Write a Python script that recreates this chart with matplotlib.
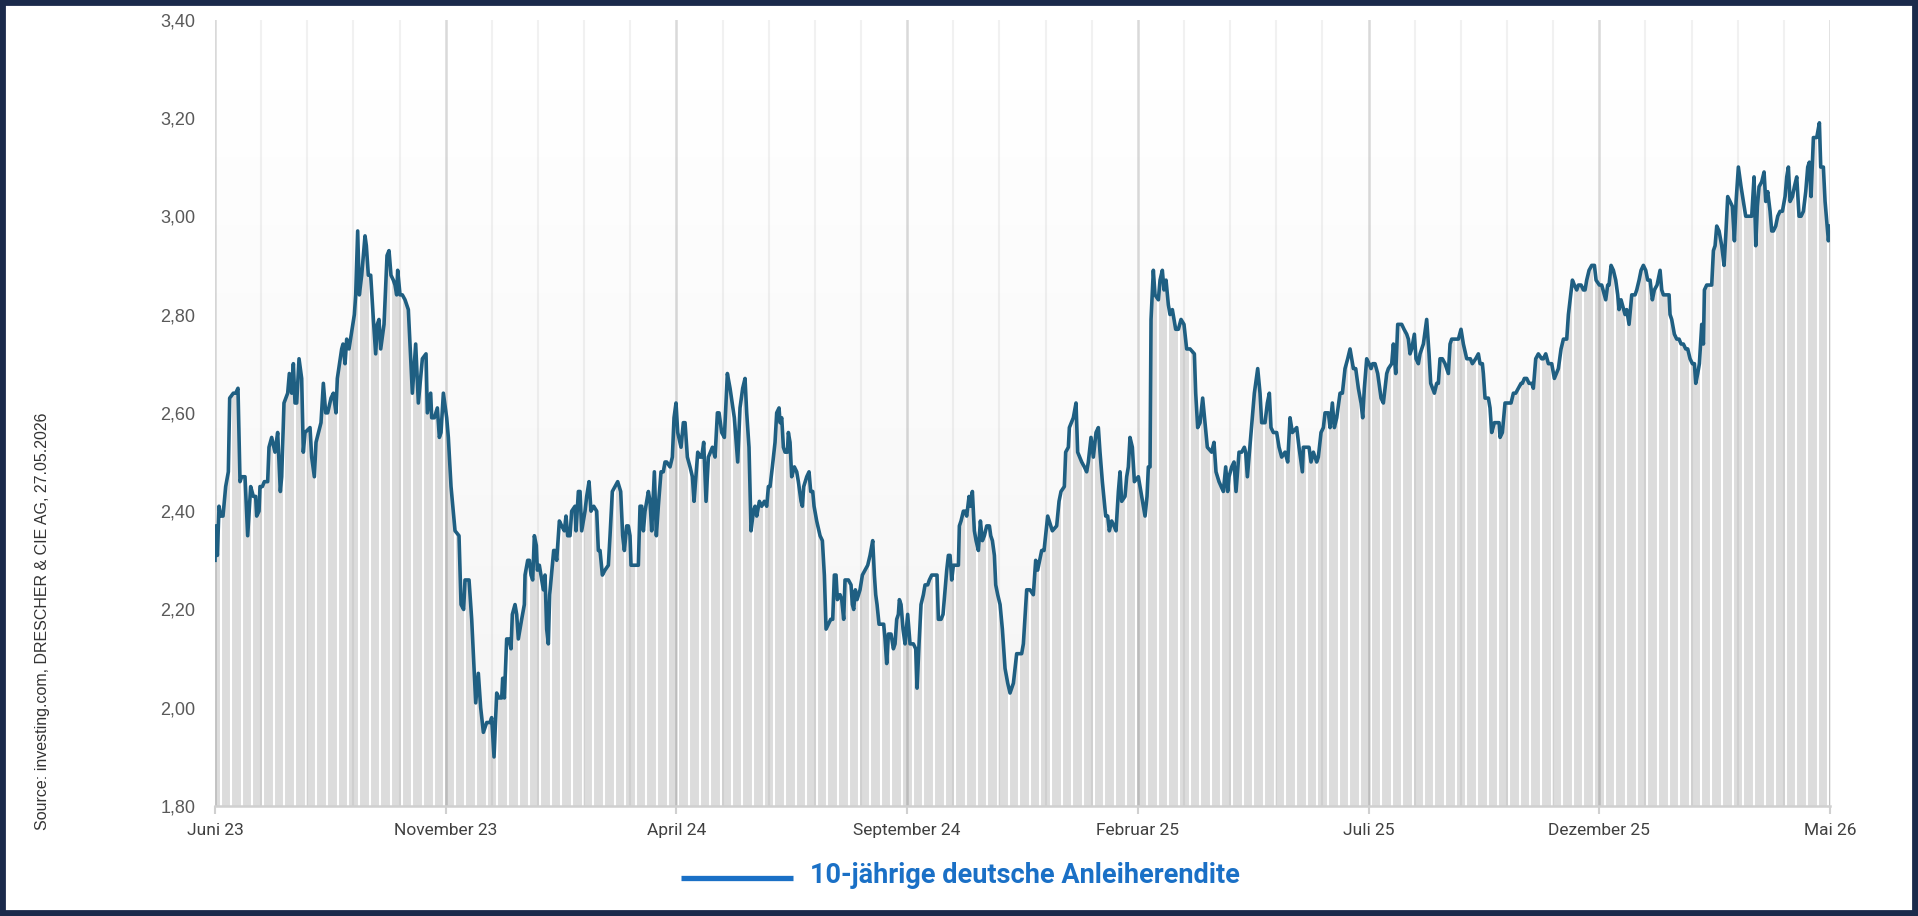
import numpy as np
import matplotlib
matplotlib.use("Agg")
import matplotlib.pyplot as plt
from matplotlib.lines import Line2D
from matplotlib.patches import Rectangle

# Zeitachse in Monaten ab Juni 23 (0 = Juni 23, 35 = Mai 26)
monate = [
    0.0, 0.014, 0.051, 0.087, 0.123, 0.173, 0.231, 0.289, 0.318, 0.397, 0.448, 0.498, 0.542, 0.578, 0.65, 0.708,
    0.773, 0.831, 0.881, 0.903, 0.954, 0.975, 1.026, 1.069, 1.141, 1.17, 1.228, 1.3, 1.358, 1.416, 1.445, 1.495,
    1.575, 1.611, 1.662, 1.698, 1.734, 1.77, 1.821, 1.878, 1.914, 1.951, 2.059, 2.095, 2.153, 2.189, 2.297, 2.348,
    2.399, 2.442, 2.514, 2.565, 2.622, 2.651, 2.745, 2.774, 2.818, 2.854, 2.904, 3.02, 3.049, 3.092, 3.128, 3.179,
    3.251, 3.28, 3.323, 3.374, 3.432, 3.482, 3.518, 3.554, 3.591, 3.663, 3.728, 3.771, 3.814, 3.865, 3.901, 3.937,
    3.959, 4.01, 4.06, 4.118, 4.19, 4.226, 4.277, 4.349, 4.407, 4.494, 4.573, 4.602, 4.674, 4.696, 4.754, 4.819,
    4.862, 4.898, 4.949, 5.021, 5.057, 5.115, 5.144, 5.202, 5.288, 5.332, 5.389, 5.418, 5.505, 5.563, 5.65, 5.707,
    5.758, 5.816, 5.888, 5.96, 5.996, 6.047, 6.105, 6.155, 6.213, 6.235, 6.271, 6.321, 6.372, 6.415, 6.444, 6.502,
    6.538, 6.574, 6.646, 6.704, 6.719, 6.777, 6.813, 6.849, 6.885, 6.921, 6.964, 6.986, 7.029, 7.08, 7.116, 7.152,
    7.188, 7.224, 7.253, 7.34, 7.369, 7.405, 7.463, 7.514, 7.571, 7.607, 7.643, 7.694, 7.73, 7.802, 7.824, 7.875,
    7.911, 7.947, 8.019, 8.055, 8.106, 8.149, 8.207, 8.272, 8.308, 8.344, 8.395, 8.452, 8.525, 8.561, 8.611, 8.669,
    8.727, 8.792, 8.835, 8.872, 8.922, 8.958, 8.994, 9.016, 9.103, 9.175, 9.211, 9.247, 9.284, 9.32, 9.356, 9.392,
    9.428, 9.464, 9.522, 9.565, 9.608, 9.666, 9.716, 9.753, 9.789, 9.861, 9.912, 9.948, 9.991, 10.028, 10.1, 10.15,
    10.187, 10.237, 10.295, 10.346, 10.382, 10.462, 10.512, 10.548, 10.591, 10.642, 10.693, 10.78, 10.837, 10.888, 10.924, 10.981,
    11.039, 11.104, 11.162, 11.255, 11.328, 11.378, 11.436, 11.487, 11.523, 11.573, 11.617, 11.668, 11.704, 11.74, 11.798, 11.848,
    11.906, 11.957, 11.993, 12.029, 12.079, 12.137, 12.173, 12.224, 12.246, 12.282, 12.318, 12.354, 12.405, 12.426, 12.462, 12.498,
    12.556, 12.607, 12.643, 12.701, 12.73, 12.759, 12.824, 12.874, 12.91, 12.954, 12.983, 13.04, 13.113, 13.163, 13.206, 13.243,
    13.293, 13.344, 13.387, 13.423, 13.459, 13.488, 13.546, 13.582, 13.625, 13.654, 13.727, 13.784, 13.813, 13.842, 13.878, 13.914,
    13.979, 14.03, 14.088, 14.146, 14.196, 14.254, 14.29, 14.319, 14.348, 14.391, 14.449, 14.492, 14.521, 14.557, 14.594, 14.651,
    14.702, 14.738, 14.774, 14.81, 14.832, 14.868, 14.911, 14.955, 15.012, 15.063, 15.135, 15.186, 15.215, 15.258, 15.301, 15.352,
    15.388, 15.446, 15.482, 15.533, 15.583, 15.648, 15.677, 15.735, 15.778, 15.822, 15.858, 15.894, 15.93, 15.966, 16.002, 16.038,
    16.111, 16.132, 16.168, 16.219, 16.255, 16.291, 16.342, 16.371, 16.414, 16.457, 16.494, 16.544, 16.588, 16.631, 16.674, 16.725,
    16.783, 16.812, 16.848, 16.891, 16.92, 16.963, 17.014, 17.064, 17.122, 17.18, 17.23, 17.303, 17.374, 17.482, 17.519, 17.591,
    17.663, 17.735, 17.786, 17.829, 17.916, 17.967, 18.046, 18.147, 18.241, 18.292, 18.335, 18.407, 18.436, 18.494, 18.516, 18.602,
    18.66, 18.696, 18.783, 18.841, 18.891, 18.927, 18.985, 19.036, 19.094, 19.144, 19.18, 19.231, 19.303, 19.346, 19.382, 19.433,
    19.484, 19.527, 19.578, 19.614, 19.65, 19.722, 19.758, 19.794, 19.83, 19.881, 19.925, 20.011, 20.084, 20.156, 20.199, 20.228,
    20.264, 20.286, 20.336, 20.372, 20.445, 20.481, 20.531, 20.567, 20.611, 20.661, 20.697, 20.748, 20.82, 20.878, 20.936, 21.0,
    21.058, 21.131, 21.225, 21.254, 21.297, 21.348, 21.405, 21.456, 21.506, 21.6, 21.651, 21.694, 21.759, 21.853, 21.904, 21.947,
    21.976, 22.034, 22.084, 22.128, 22.193, 22.251, 22.308, 22.337, 22.374, 22.453, 22.525, 22.598, 22.648, 22.684, 22.756, 22.807,
    22.85, 22.886, 22.937, 23.009, 23.06, 23.117, 23.19, 23.248, 23.298, 23.349, 23.443, 23.493, 23.566, 23.587, 23.66, 23.71,
    23.753, 23.804, 23.876, 23.912, 23.97, 24.021, 24.057, 24.129, 24.165, 24.216, 24.259, 24.31, 24.382, 24.433, 24.49, 24.548,
    24.599, 24.671, 24.722, 24.779, 24.837, 24.873, 24.909, 24.96, 25.011, 25.054, 25.09, 25.141, 25.198, 25.271, 25.321, 25.394,
    25.43, 25.502, 25.538, 25.589, 25.632, 25.719, 25.769, 25.827, 25.863, 25.899, 25.935, 25.993, 26.029, 26.08, 26.116, 26.188,
    26.26, 26.311, 26.347, 26.427, 26.477, 26.513, 26.549, 26.6, 26.658, 26.73, 26.766, 26.802, 26.874, 26.947, 27.004, 27.055,
    27.128, 27.163, 27.207, 27.25, 27.322, 27.38, 27.416, 27.467, 27.488, 27.525, 27.597, 27.633, 27.669, 27.727, 27.777, 27.828,
    27.85, 27.9, 27.958, 28.016, 28.088, 28.139, 28.189, 28.247, 28.305, 28.334, 28.377, 28.428, 28.478, 28.536, 28.572, 28.623,
    28.68, 28.753, 28.789, 28.84, 28.897, 28.97, 29.027, 29.114, 29.172, 29.223, 29.295, 29.331, 29.418, 29.461, 29.512, 29.548,
    29.606, 29.656, 29.692, 29.728, 29.779, 29.837, 29.895, 29.931, 30.003, 30.053, 30.111, 30.14, 30.183, 30.212, 30.256, 30.306,
    30.357, 30.4, 30.429, 30.472, 30.501, 30.559, 30.595, 30.646, 30.704, 30.776, 30.812, 30.863, 30.906, 30.956, 31.007, 31.05,
    31.101, 31.151, 31.194, 31.253, 31.318, 31.354, 31.39, 31.462, 31.513, 31.534, 31.57, 31.628, 31.679, 31.73, 31.773, 31.823,
    31.874, 31.917, 31.968, 32.018, 32.062, 32.091, 32.134, 32.17, 32.221, 32.257, 32.279, 32.329, 32.38, 32.437, 32.474, 32.51,
    32.546, 32.596, 32.654, 32.705, 32.741, 32.784, 32.835, 32.885, 32.929, 32.965, 33.015, 33.073, 33.124, 33.174, 33.218, 33.268,
    33.304, 33.355, 33.391, 33.427, 33.463, 33.521, 33.572, 33.608, 33.651, 33.702, 33.738, 33.774, 33.824, 33.868, 33.918, 33.969,
    34.027, 34.063, 34.099, 34.135, 34.186, 34.229, 34.28, 34.33, 34.374, 34.424, 34.475, 34.518, 34.554, 34.59, 34.641, 34.713,
    34.771, 34.8, 34.857, 34.894, 34.93, 34.966, 35.0,
]

# 10-jährige deutsche Anleiherendite in %
rendite = [
    2.30, 2.37, 2.31, 2.41, 2.39, 2.39, 2.45, 2.48, 2.63, 2.64, 2.64, 2.65, 2.46, 2.47, 2.47, 2.35,
    2.45, 2.43, 2.43, 2.39, 2.40, 2.45, 2.45, 2.46, 2.46, 2.53, 2.55, 2.52, 2.56, 2.44, 2.47, 2.62,
    2.64, 2.68, 2.64, 2.70, 2.62, 2.62, 2.71, 2.67, 2.52, 2.56, 2.57, 2.51, 2.47, 2.54, 2.58, 2.66,
    2.60, 2.60, 2.63, 2.64, 2.60, 2.67, 2.73, 2.74, 2.70, 2.75, 2.73, 2.80, 2.84, 2.97, 2.84, 2.88,
    2.96, 2.94, 2.88, 2.88, 2.79, 2.72, 2.78, 2.79, 2.73, 2.78, 2.92, 2.93, 2.88, 2.87, 2.86, 2.84,
    2.89, 2.84, 2.84, 2.83, 2.81, 2.74, 2.64, 2.74, 2.62, 2.71, 2.72, 2.60, 2.64, 2.59, 2.59, 2.61,
    2.55, 2.56, 2.64, 2.59, 2.55, 2.45, 2.42, 2.36, 2.35, 2.21, 2.20, 2.26, 2.26, 2.18, 2.01, 2.07,
    2.00, 1.95, 1.97, 1.97, 1.98, 1.90, 2.03, 2.02, 2.02, 2.06, 2.02, 2.14, 2.14, 2.12, 2.19, 2.21,
    2.19, 2.14, 2.18, 2.21, 2.27, 2.30, 2.30, 2.27, 2.26, 2.35, 2.33, 2.28, 2.29, 2.26, 2.24, 2.27,
    2.16, 2.13, 2.23, 2.32, 2.32, 2.30, 2.38, 2.37, 2.36, 2.39, 2.35, 2.35, 2.40, 2.41, 2.36, 2.44,
    2.44, 2.36, 2.40, 2.43, 2.46, 2.40, 2.41, 2.40, 2.32, 2.32, 2.27, 2.28, 2.29, 2.35, 2.44, 2.45,
    2.46, 2.44, 2.35, 2.32, 2.37, 2.37, 2.35, 2.29, 2.29, 2.29, 2.41, 2.41, 2.36, 2.40, 2.42, 2.44,
    2.42, 2.36, 2.48, 2.35, 2.41, 2.48, 2.48, 2.50, 2.50, 2.49, 2.51, 2.59, 2.62, 2.56, 2.53, 2.58,
    2.58, 2.51, 2.49, 2.47, 2.42, 2.52, 2.51, 2.51, 2.54, 2.42, 2.51, 2.53, 2.51, 2.60, 2.60, 2.56,
    2.55, 2.68, 2.65, 2.59, 2.50, 2.61, 2.65, 2.67, 2.60, 2.53, 2.36, 2.40, 2.41, 2.39, 2.42, 2.41,
    2.42, 2.41, 2.45, 2.45, 2.49, 2.54, 2.60, 2.61, 2.58, 2.59, 2.53, 2.52, 2.52, 2.56, 2.54, 2.47,
    2.49, 2.48, 2.46, 2.42, 2.41, 2.45, 2.47, 2.48, 2.44, 2.44, 2.41, 2.38, 2.35, 2.34, 2.27, 2.16,
    2.17, 2.18, 2.18, 2.27, 2.27, 2.22, 2.23, 2.22, 2.18, 2.26, 2.26, 2.25, 2.21, 2.20, 2.24, 2.22,
    2.24, 2.27, 2.28, 2.29, 2.31, 2.34, 2.27, 2.23, 2.21, 2.17, 2.17, 2.17, 2.14, 2.09, 2.15, 2.15,
    2.12, 2.13, 2.18, 2.19, 2.22, 2.21, 2.16, 2.13, 2.19, 2.13, 2.13, 2.12, 2.04, 2.13, 2.21, 2.23,
    2.25, 2.25, 2.26, 2.27, 2.27, 2.27, 2.18, 2.18, 2.19, 2.24, 2.28, 2.31, 2.31, 2.26, 2.29, 2.29,
    2.29, 2.37, 2.38, 2.40, 2.40, 2.39, 2.43, 2.41, 2.44, 2.36, 2.34, 2.32, 2.38, 2.34, 2.35, 2.37,
    2.37, 2.35, 2.34, 2.31, 2.25, 2.23, 2.21, 2.16, 2.08, 2.05, 2.03, 2.05, 2.11, 2.11, 2.13, 2.24,
    2.24, 2.23, 2.30, 2.28, 2.32, 2.32, 2.39, 2.36, 2.37, 2.42, 2.44, 2.45, 2.52, 2.53, 2.57, 2.59,
    2.62, 2.52, 2.50, 2.49, 2.48, 2.50, 2.55, 2.51, 2.56, 2.57, 2.52, 2.46, 2.39, 2.39, 2.36, 2.38,
    2.37, 2.36, 2.44, 2.48, 2.42, 2.43, 2.47, 2.49, 2.55, 2.53, 2.46, 2.47, 2.43, 2.39, 2.43, 2.49,
    2.49, 2.79, 2.89, 2.84, 2.83, 2.87, 2.89, 2.85, 2.87, 2.82, 2.80, 2.81, 2.77, 2.77, 2.79, 2.78,
    2.73, 2.73, 2.72, 2.64, 2.57, 2.58, 2.63, 2.58, 2.53, 2.52, 2.54, 2.48, 2.46, 2.44, 2.49, 2.44,
    2.47, 2.49, 2.50, 2.44, 2.52, 2.52, 2.53, 2.52, 2.47, 2.56, 2.64, 2.69, 2.64, 2.58, 2.58, 2.62,
    2.64, 2.57, 2.56, 2.56, 2.53, 2.51, 2.52, 2.50, 2.59, 2.56, 2.57, 2.53, 2.48, 2.53, 2.53, 2.53,
    2.50, 2.52, 2.50, 2.51, 2.56, 2.57, 2.60, 2.60, 2.57, 2.62, 2.57, 2.59, 2.64, 2.64, 2.69, 2.71,
    2.73, 2.69, 2.69, 2.65, 2.62, 2.59, 2.65, 2.71, 2.70, 2.69, 2.70, 2.70, 2.68, 2.63, 2.62, 2.68,
    2.69, 2.70, 2.74, 2.68, 2.78, 2.78, 2.77, 2.76, 2.75, 2.72, 2.73, 2.76, 2.71, 2.70, 2.72, 2.74,
    2.79, 2.72, 2.66, 2.64, 2.66, 2.66, 2.71, 2.71, 2.70, 2.68, 2.74, 2.75, 2.75, 2.75, 2.77, 2.74,
    2.71, 2.71, 2.71, 2.70, 2.71, 2.72, 2.70, 2.70, 2.68, 2.63, 2.63, 2.61, 2.56, 2.58, 2.58, 2.58,
    2.55, 2.56, 2.62, 2.62, 2.62, 2.64, 2.64, 2.65, 2.66, 2.66, 2.67, 2.67, 2.66, 2.66, 2.65, 2.71,
    2.72, 2.71, 2.71, 2.72, 2.70, 2.70, 2.67, 2.69, 2.73, 2.75, 2.75, 2.80, 2.87, 2.86, 2.85, 2.86,
    2.86, 2.85, 2.85, 2.87, 2.89, 2.90, 2.90, 2.87, 2.86, 2.86, 2.84, 2.83, 2.86, 2.86, 2.90, 2.89,
    2.87, 2.84, 2.81, 2.83, 2.82, 2.80, 2.81, 2.78, 2.84, 2.84, 2.85, 2.87, 2.89, 2.90, 2.89, 2.87,
    2.87, 2.83, 2.85, 2.86, 2.89, 2.85, 2.84, 2.84, 2.84, 2.80, 2.79, 2.76, 2.75, 2.75, 2.74, 2.74,
    2.73, 2.73, 2.71, 2.70, 2.70, 2.66, 2.68, 2.70, 2.78, 2.74, 2.85, 2.86, 2.86, 2.86, 2.93, 2.94,
    2.98, 2.97, 2.94, 2.90, 2.96, 3.04, 3.03, 3.02, 2.95, 3.03, 3.10, 3.06, 3.03, 3.00, 3.00, 3.00,
    3.00, 3.08, 2.94, 3.02, 3.06, 3.07, 3.09, 3.03, 3.05, 3.01, 2.97, 2.97, 2.98, 3.00, 3.01, 3.01,
    3.04, 3.08, 3.10, 3.03, 3.04, 3.06, 3.08, 3.00, 3.00, 3.01, 3.05, 3.10, 3.11, 3.04, 3.16, 3.16,
    3.19, 3.10, 3.10, 3.03, 2.99, 2.95, 2.98,
]

tick_pos = [0, 5, 10, 15, 20, 25, 30, 35]
tick_labels = ["Juni 23", "November 23", "April 24", "September 24",
               "Februar 25", "Juli 25", "Dezember 25", "Mai 26"]
y_ticks = [1.80, 2.00, 2.20, 2.40, 2.60, 2.80, 3.00, 3.20, 3.40]

linie_farbe = "#1f5f82"
legende_farbe = "#1a70c6"
schmal = ["Liberation Sans Narrow", "Roboto", "DejaVu Sans"]

fig = plt.figure(figsize=(19.18, 9.16), dpi=100)
ax = fig.add_axes([0.1121, 0.120, 0.8420, 0.8586])

# leichter Verlauf im Hintergrund
grad = np.linspace(1.0, 0.955, 256).reshape(-1, 1)
ax.imshow(grad, cmap="gray", vmin=0, vmax=1, aspect="auto",
          extent=[0, 1, 0, 1], transform=ax.transAxes, zorder=0)

x = np.array(monate)
y = np.array(rendite)
fl = ax.fill_between(x, 1.8, y, color="#dcdcdc", lw=0, zorder=0.2)

# weiße Wochenstreifen in der Fläche
wochen = np.arange(0.12, 35, 12 / 52)
vl = ax.vlines(wochen, 1.8, 3.4, colors="white", lw=1.5, zorder=0.3)
vl.set_clip_path(fl.get_paths()[0], ax.transData)

ax.plot(x, y, color=linie_farbe, lw=2.6, zorder=3, solid_joinstyle="round")

ax.set_xlim(0, 35)
ax.set_ylim(1.8, 3.4)
ax.set_xticks(tick_pos)
ax.set_xticklabels(tick_labels)
ax.set_xticks(np.arange(0, 36, 1), minor=True)
ax.set_yticks(y_ticks)
ax.set_yticklabels([f"{v:.2f}".replace(".", ",") for v in y_ticks])

ax.set_axisbelow(True)
ax.grid(True, axis="x", which="minor", color="black", alpha=0.055, lw=1.5)
ax.grid(True, axis="x", which="major", color="black", alpha=0.15, lw=1.8)

for s in ["top", "right", "left"]:
    ax.spines[s].set_visible(False)
ax.spines["bottom"].set_color("#d0d0d0")
ax.spines["bottom"].set_linewidth(1.8)
ax.spines["bottom"].set_zorder(4)

ax.tick_params(axis="y", length=0, pad=14, labelsize=13, labelcolor="#595959")
ax.tick_params(axis="x", which="major", length=6, width=1.5, color="#d0d0d0",
               pad=6, labelsize=12.5, labelcolor="#404040")
ax.tick_params(axis="x", which="minor", length=0)
for lab in ax.get_yticklabels():
    lab.set_family(["Liberation Sans", "DejaVu Sans"])
for lab in ax.get_xticklabels():
    lab.set_family(schmal)

# Legende unten
fig.add_artist(Line2D([0.3551, 0.4135], [0.0415, 0.0415], transform=fig.transFigure,
                      color=legende_farbe, lw=3.8, solid_capstyle="butt"))
fig.text(0.4223, 0.0437, "10-jährige deutsche Anleiherendite", color=legende_farbe,
         fontsize=19.5, fontweight="bold", family=schmal, ha="left", va="center")

fig.text(0.0224, 0.322, "Source: investing.com, DRESCHER & CIE AG, 27.05.2026",
         rotation=90, fontsize=11.5, color="#333333", ha="center", va="center",
         family=["Liberation Sans", "DejaVu Sans"])

# dunkler Rahmen
fig.add_artist(Rectangle((0, 0), 1, 1, transform=fig.transFigure, fill=False,
                         edgecolor="#1b2a4b", lw=8.5))

fig.savefig("out.png", dpi=100)
